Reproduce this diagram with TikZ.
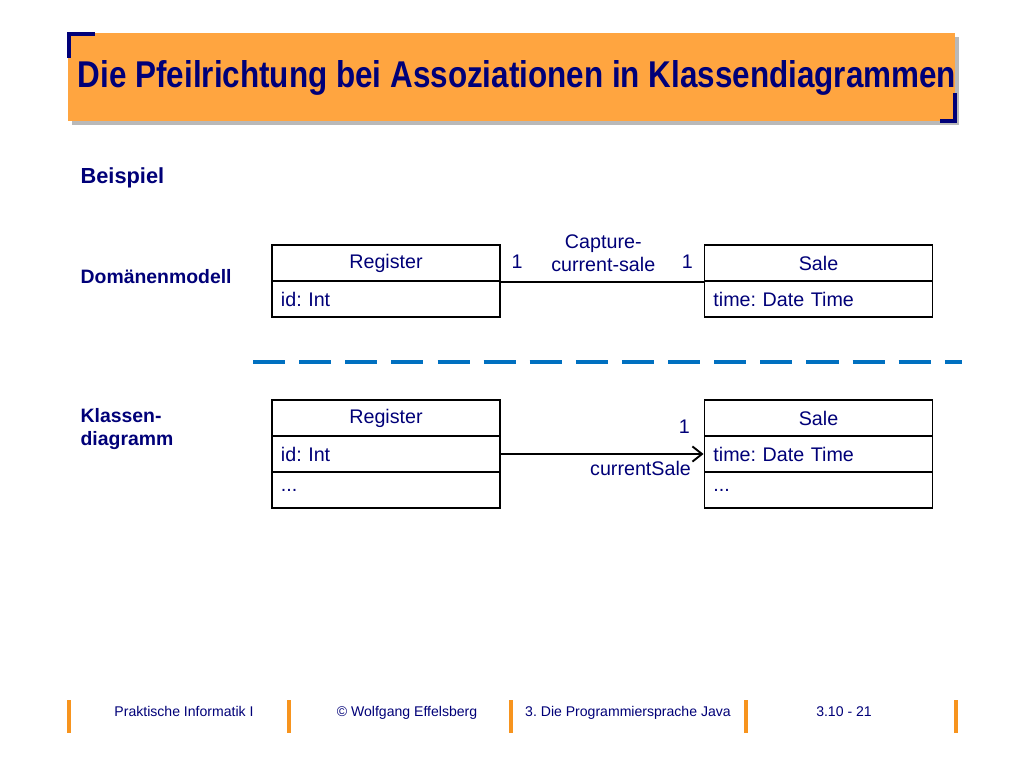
\documentclass[tikz,border=0pt]{standalone}
\usepackage{fontspec}
\setmainfont{Liberation Sans}
\usetikzlibrary{arrows.meta,positioning}

\definecolor{navy}{RGB}{0,0,120}
\definecolor{titleorange}{RGB}{255,165,64}
\definecolor{barorange}{RGB}{247,148,30}
\definecolor{dashblue}{RGB}{0,112,192}

\begin{document}
\frenchspacing
\begin{tikzpicture}[
  x=0.025cm, y=-0.025cm,
  font=\fontsize{14}{16}\selectfont,
  text=navy,
  line width=1.35pt,
  classhead/.style={draw=black,fill=white,minimum width=5.7cm,minimum height=0.9cm,inner sep=0pt,align=center},
  classrow/.style={draw=black,fill=white,text width=5.25cm,minimum height=0.9cm,inner xsep=0.225cm,inner ysep=0pt,align=left},
  mult/.style={inner sep=2pt},
  label/.style={font=\bfseries\fontsize{13.8}{16.5}\selectfont,anchor=west,align=left},
  footer/.style={font=\fontsize{10}{12}\selectfont,anchor=base},
  assoc/.style={draw=black,line width=1.35pt},
  navarrow/.style={draw=black,line width=1.35pt,-{Straight Barb[length=2.4mm,width=3.8mm,line width=1.35pt]}},
  sepline/.style={draw=dashblue,line width=3.5pt,dash pattern=on 22.8pt off 10pt},
  bar/.style={draw=barorange,line width=2.8pt}
]
\useasboundingbox (0,0) rectangle (1024,768);
\fill[white] (0,0) rectangle (1024,768);

% ===== Title =====
\fill[gray!55] (72,37) rectangle (959,125);
\fill[titleorange] (68,33) rectangle (955,121);
\draw[navy,line width=2.2pt] (69,58) -- (69,34) -- (95,34);
\draw[navy,line width=2.2pt] (940,121) -- (955,121) -- (955,93);
\node[font=\bfseries\fontsize{26.5}{30}\selectfont] (title) at (517,78)
  {\scalebox{0.843}[1]{Die Pfeilrichtung bei Assoziationen in Klassendiagrammen}};

\node[font=\bfseries\fontsize{15.5}{18}\selectfont,anchor=west] (bsp) at (75,178) {Beispiel};

% ===== Domain model =====
\node[label] (dom) at (75,277) {Domänenmodell};
\node[classhead] (reg1) at (386,263) {Register};
\node[classrow,below=-1.35pt of reg1] (reg1a) {id: Int};
\node[classhead] (sale1) at (818.5,263) {Sale};
\node[classrow,below=-1.35pt of sale1] (sale1a) {time: Date Time};

\draw[assoc] (reg1.south east) --
  node[mult,pos=0.08,above=7pt] {1}
  node[pos=0.505,above=3pt,align=center,font=\fontsize{14}{17}\selectfont] {Capture-\\current-sale}
  node[mult,pos=0.92,above=7pt] {1}
  (sale1.south west);

% ===== Separator =====
\coordinate (sepL) at (253,362);
\coordinate (sepR) at (962,362);
\draw[sepline] (sepL) -- (sepR);

% ===== Class diagram =====
\node[label] (cls) at (75,429) {Klassen-\\diagramm};
\node[classhead] (reg2) at (386,418) {Register};
\node[classrow,below=-1.35pt of reg2] (reg2a) {id: Int};
\node[classrow,below=-1.35pt of reg2a] (reg2b) {...};
\node[classhead] (sale2) at (818.5,418) {Sale};
\node[classrow,below=-1.35pt of sale2] (sale2a) {time: Date Time};
\node[classrow,below=-1.35pt of sale2a] (sale2b) {...};

\draw[navarrow] (reg2a.east) --
  node[mult,pos=1,above left=12pt and 7pt] {1}
  node[pos=1,below left=1pt and 5pt] {currentSale}
  (sale2a.west);

% ===== Footer =====
\foreach \bx in {69,289,511,746,956}
  \draw[bar] (\bx,700) -- (\bx,733);
\node[footer] (f1) at (184,716) {Praktische Informatik I};
\node[footer] (f2) at (407,716) {© Wolfgang Effelsberg};
\node[footer] (f3) at (628,716) {3. Die Programmiersprache Java};
\node[footer] (f4) at (844,716) {3.10 - 21};

\end{tikzpicture}
\end{document}
